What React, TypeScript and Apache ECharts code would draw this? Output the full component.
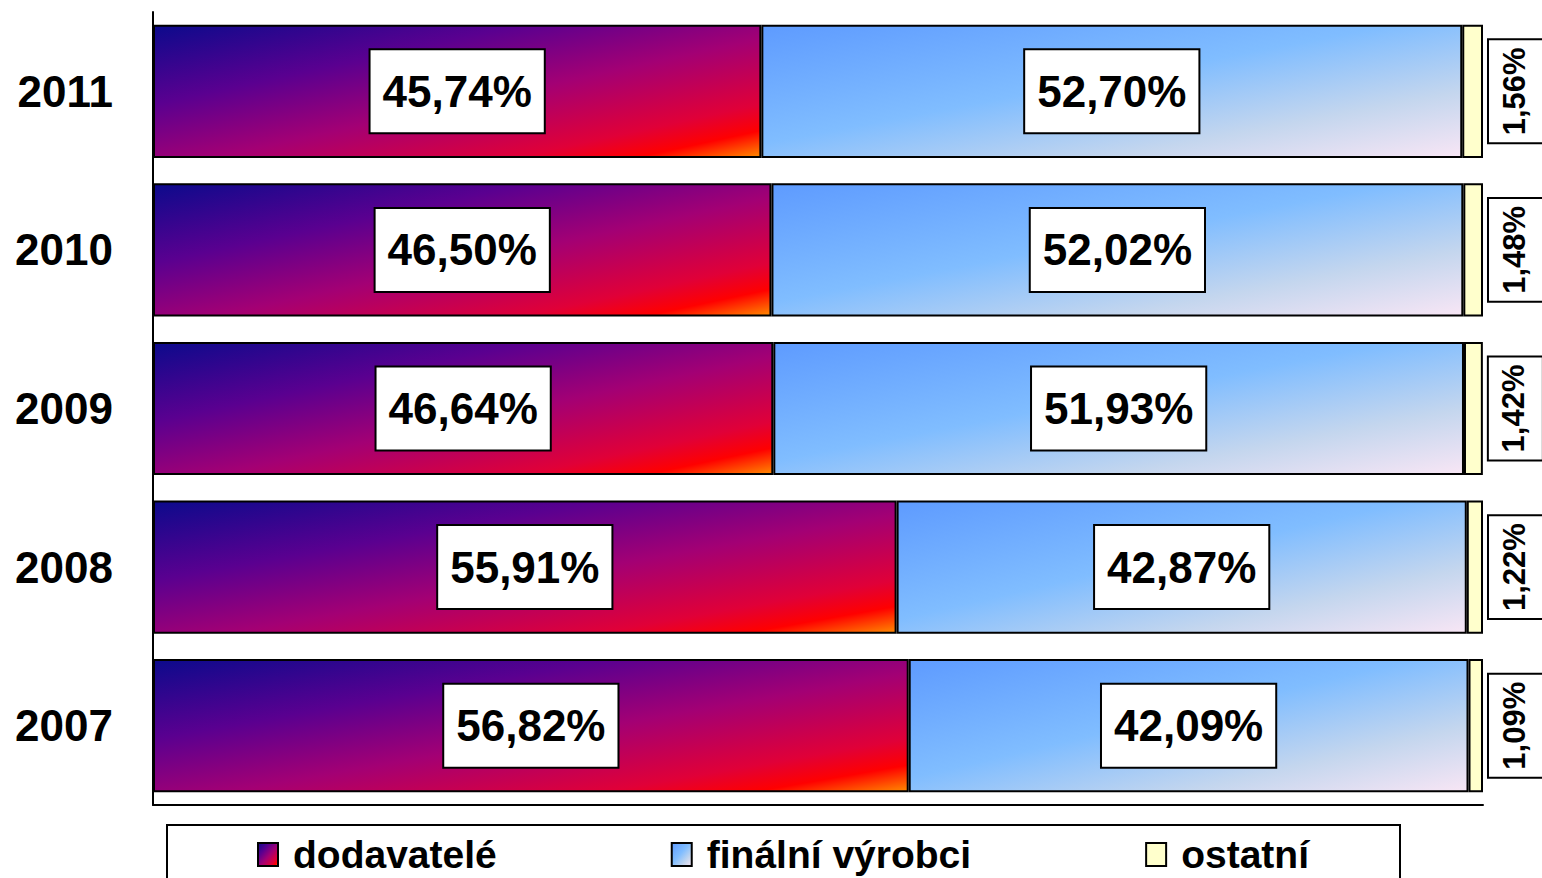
import React, { useEffect, useRef } from "react";
import * as echarts from "echarts";

const years = ["2007", "2008", "2009", "2010", "2011"];
const dodavatele = [56.82, 55.91, 46.64, 46.5, 45.74];
const finalni = [42.09, 42.87, 51.93, 52.02, 52.7];
const ostatni = [1.09, 1.22, 1.42, 1.48, 1.56];
const seriesNames = ["dodavatelé", "finální výrobci", "ostatní"];

const FONT = "'Liberation Sans', Arial, sans-serif";

const fmt = (v: number) => v.toFixed(2).replace(".", ",") + "%";

export default function App() {
  const ref = useRef<HTMLDivElement>(null);
  useEffect(() => {
    if (!ref.current) return;
    const chart = echarts.init(ref.current, null, { renderer: "svg" });
    const purpleGrad = new echarts.graphic.LinearGradient(0, 0, 1, 1, [
      { offset: 0, color: "#0c0a8c" },
      { offset: 0.3, color: "#5a0090" },
      { offset: 0.55, color: "#a30074" },
      { offset: 0.8, color: "#e00038" },
      { offset: 0.9, color: "#ff0000" },
      { offset: 1, color: "#ff8a00" },
    ]);
    const blueGrad = new echarts.graphic.LinearGradient(0, 0, 1, 1, [
      { offset: 0, color: "#5e9bff" },
      { offset: 0.45, color: "#80bdff" },
      { offset: 0.75, color: "#c4d6ee" },
      { offset: 1, color: "#f8e6f5" },
    ]);
    const innerLabel = {
      show: true,
      position: "inside",
      formatter: (p: any) => fmt(p.value),
      color: "#000",
      fontFamily: FONT,
      fontWeight: "bold",
      fontSize: 44,
      lineHeight: 46,
      backgroundColor: "#fff",
      borderColor: "#000",
      borderWidth: 2,
      padding: [19, 12, 17, 12],
    };
    const option = {
      animation: false,
      grid: { left: 153, top: 12, right: 59, bottom: 73, containLabel: false },
      legend: {
        left: 252,
        top: 830,
        itemGap: 174,
        itemWidth: 20,
        itemHeight: 23,
        icon: "rect",
        data: seriesNames,
        textStyle: {
          fontFamily: FONT,
          fontWeight: "bold",
          fontSize: 39,
          lineHeight: 39,
          color: "#000",
          padding: [0, 0, 0, 10],
        },
      },
      graphic: [
        {
          type: "rect",
          shape: { x: 167, y: 825, width: 1233, height: 90 },
          style: { fill: "none", stroke: "#000", lineWidth: 2 },
        },
      ],
      xAxis: {
        type: "value",
        min: 0,
        max: 100,
        axisLine: { show: true, lineStyle: { color: "#000", width: 2 } },
        axisTick: { show: false },
        axisLabel: { show: false },
        splitLine: { show: false },
      },
      yAxis: {
        type: "category",
        data: years,
        axisLine: { show: true, lineStyle: { color: "#000", width: 2 } },
        axisTick: { show: false },
        axisLabel: {
          margin: 40,
          fontFamily: FONT,
          fontWeight: "bold",
          fontSize: 44,
          color: "#000",
        },
      },
      series: [
        {
          name: seriesNames[0],
          type: "bar",
          stack: "s",
          barCategoryGap: "16%",
          data: dodavatele,
          itemStyle: { color: purpleGrad, borderColor: "#000", borderWidth: 2 },
          label: innerLabel,
        },
        {
          name: seriesNames[1],
          type: "bar",
          stack: "s",
          data: finalni,
          itemStyle: { color: blueGrad, borderColor: "#000", borderWidth: 2 },
          label: innerLabel,
        },
        {
          name: seriesNames[2],
          type: "bar",
          stack: "s",
          data: ostatni,
          itemStyle: { color: "#ffffcc", borderColor: "#000", borderWidth: 2 },
          label: {
            show: true,
            position: "right",
            distance: 6,
            rotate: 90,
            align: "center",
            verticalAlign: "top",
            formatter: (p: any) => fmt(p.value),
            color: "#000",
            fontFamily: FONT,
            fontWeight: "bold",
            fontSize: 31,
            lineHeight: 32,
            backgroundColor: "#fff",
            borderColor: "#000",
            borderWidth: 2,
            padding: [9, 7, 12, 7],
          },
        },
      ],
    };
    chart.setOption(option as any);
    return () => chart.dispose();
  }, []);
  return (
    <div
      ref={ref}
      style={{ position: "fixed", left: 0, top: 0, width: 1542, height: 878, background: "#fff" }}
    />
  );
}
